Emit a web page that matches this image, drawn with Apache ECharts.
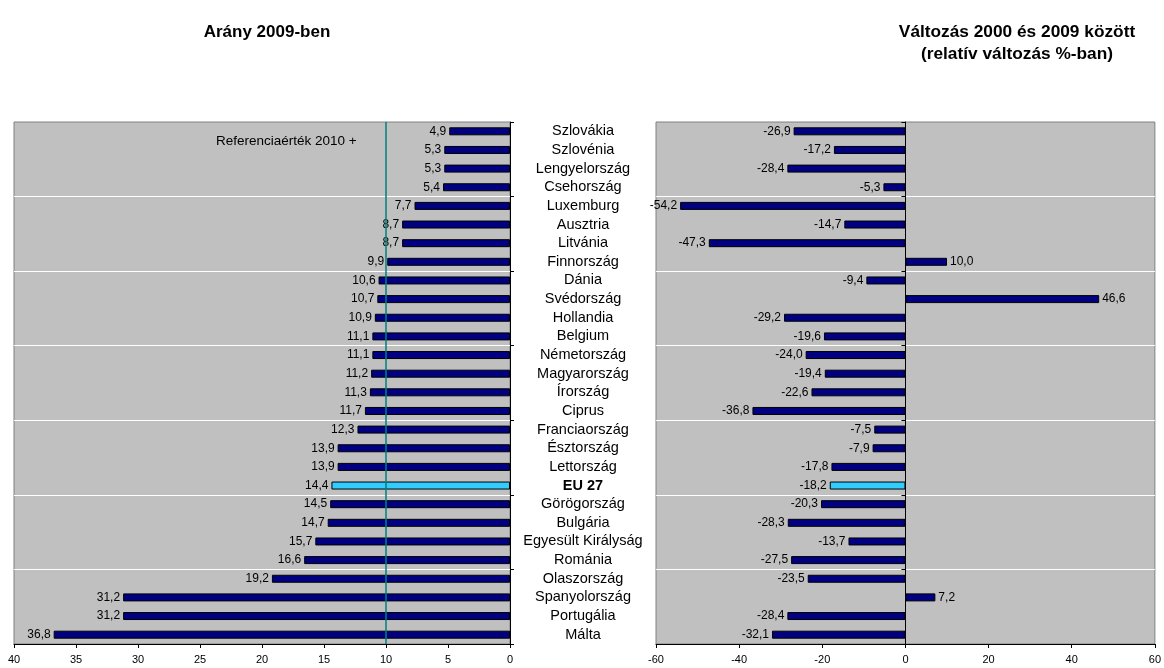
<!DOCTYPE html>
<html>
<head>
<meta charset="utf-8">
<script src="https://cdn.jsdelivr.net/npm/echarts@6/dist/echarts.min.js"></script>
<style>
  html, body { margin: 0; padding: 0; background: #fff; }
  #chart { width: 1164px; height: 668px; }
</style>
</head>
<body>
<div id="chart"></div>
<script>
var countries = ['Szlovákia', 'Szlovénia', 'Lengyelország', 'Csehország', 'Luxemburg', 'Ausztria', 'Litvánia',
    'Finnország', 'Dánia', 'Svédország', 'Hollandia', 'Belgium', 'Németország', 'Magyarország', 'Írország',
    'Ciprus', 'Franciaország', 'Észtország', 'Lettország', 'EU 27', 'Görögország', 'Bulgária',
    'Egyesült Királyság', 'Románia', 'Olaszország', 'Spanyolország', 'Portugália', 'Málta'];
var share2009 = [4.9, 5.3, 5.3, 5.4, 7.7, 8.7, 8.7, 9.9, 10.6, 10.7, 10.9, 11.1, 11.1, 11.2, 11.3,
    11.7, 12.3, 13.9, 13.9, 14.4, 14.5, 14.7, 15.7, 16.6, 19.2, 31.2, 31.2, 36.8];
var change0009 = [-26.9, -17.2, -28.4, -5.3, -54.2, -14.7, -47.3, 10.0, -9.4, 46.6, -29.2, -19.6, -24.0,
    -19.4, -22.6, -36.8, -7.5, -7.9, -17.8, -18.2, -20.3, -28.3, -13.7, -27.5, -23.5, 7.2, -28.4, -32.1];
var referenceValue = 10;
var highlight = 'EU 27';

var chart = echarts.init(document.getElementById('chart'));

function fmt(v) {
    return v.toFixed(1).replace('.', ',');
}

function barData(values, side) {
    return values.map(function (v, i) {
        var hl = countries[i] === highlight;
        return {
            value: v,
            itemStyle: {color: hl ? '#33ccff' : '#000080'},
            label: {position: side ? side : (v < 0 ? 'left' : 'right')}
        };
    });
}

var gridSplit = {
    show: true,
    interval: function (i) { return i > 0 && i % 4 === 0; },
    lineStyle: {color: '#ffffff', width: 1}
};
var boundaryTicks = {
    show: true,
    length: 4,
    interval: function (i) { return i % 4 === 0; },
    lineStyle: {color: '#000'}
};
var labelStyle = {
    show: true,
    fontFamily: 'Liberation Sans, Arial',
    fontSize: 12,
    color: '#000',
    distance: 3,
    formatter: function (p) { return fmt(p.value); }
};

var option = {
    animation: false,
    backgroundColor: '#fff',
    textStyle: {fontFamily: 'Liberation Sans, Arial'},
    title: [
        {
            text: 'Arány 2009-ben',
            left: 262, top: 19, textAlign: 'center',
            textStyle: {fontSize: 17, fontWeight: 'bold', color: '#000', fontFamily: 'Liberation Sans, Arial'}
        },
        {
            text: 'Változás 2000 és 2009 között\n(relatív változás %-ban)',
            left: 1012, top: 16, textAlign: 'center',
            textStyle: {fontSize: 17.3, fontWeight: 'bold', color: '#000', lineHeight: 22, fontFamily: 'Liberation Sans, Arial'}
        }
    ],
    graphic: [{
        type: 'text', left: 216, top: 134,
        style: {text: 'Referenciaérték 2010 +', fontSize: 13.5, fill: '#000', fontFamily: 'Liberation Sans, Arial'}
    }],
    grid: [
        {left: 14, width: 496, top: 122, height: 522, show: true, backgroundColor: '#c0c0c0', borderColor: '#808080'},
        {left: 656, right: 6, top: 122, height: 522, show: true, backgroundColor: '#c0c0c0', borderColor: '#808080'}
    ],
    xAxis: [
        {
            gridIndex: 0, type: 'value', inverse: true, min: 0, max: 40, interval: 5,
            axisLine: {show: true, lineStyle: {color: '#000'}},
            axisTick: {show: true, length: 4, lineStyle: {color: '#000'}},
            axisLabel: {fontSize: 11, color: '#000', margin: 10},
            splitLine: {show: false}
        },
        {
            gridIndex: 1, type: 'value', min: -60, max: 60, interval: 20,
            axisLine: {show: true, onZero: false, lineStyle: {color: '#000'}},
            axisTick: {show: true, length: 4, lineStyle: {color: '#000'}},
            axisLabel: {fontSize: 11, color: '#000', margin: 10},
            splitLine: {show: false}
        }
    ],
    yAxis: [
        {
            gridIndex: 0, type: 'category', data: countries, inverse: true, position: 'right',
            axisLine: {show: true, onZero: false, lineStyle: {color: '#000'}},
            axisTick: boundaryTicks,
            splitLine: gridSplit,
            axisLabel: {
                interval: 0, align: 'center', margin: 73, fontSize: 14.5, color: '#000',
                formatter: function (v) { return v === highlight ? '{b|' + v + '}' : v; },
                rich: {b: {fontWeight: 'bold', fontSize: 14.5, color: '#000'}}
            }
        },
        {
            gridIndex: 1, type: 'category', data: countries, inverse: true,
            axisLine: {show: true, onZero: true, lineStyle: {color: '#000'}},
            axisTick: boundaryTicks,
            splitLine: gridSplit,
            axisLabel: {show: false}
        }
    ],
    series: [
        {
            name: 'Arány 2009-ben', type: 'bar', xAxisIndex: 0, yAxisIndex: 0,
            barWidth: 8,
            itemStyle: {borderColor: '#000', borderWidth: 1},
            label: labelStyle,
            data: barData(share2009, 'left'),
            markLine: {
                silent: true, symbol: 'none',
                label: {show: false},
                lineStyle: {color: '#008080', width: 1.5, type: 'solid'},
                data: [{xAxis: referenceValue}]
            }
        },
        {
            name: 'Változás 2000 és 2009 között', type: 'bar', xAxisIndex: 1, yAxisIndex: 1,
            barWidth: 8,
            itemStyle: {borderColor: '#000', borderWidth: 1},
            label: labelStyle,
            data: barData(change0009)
        }
    ]
};

chart.setOption(option);
</script>
</body>
</html>
